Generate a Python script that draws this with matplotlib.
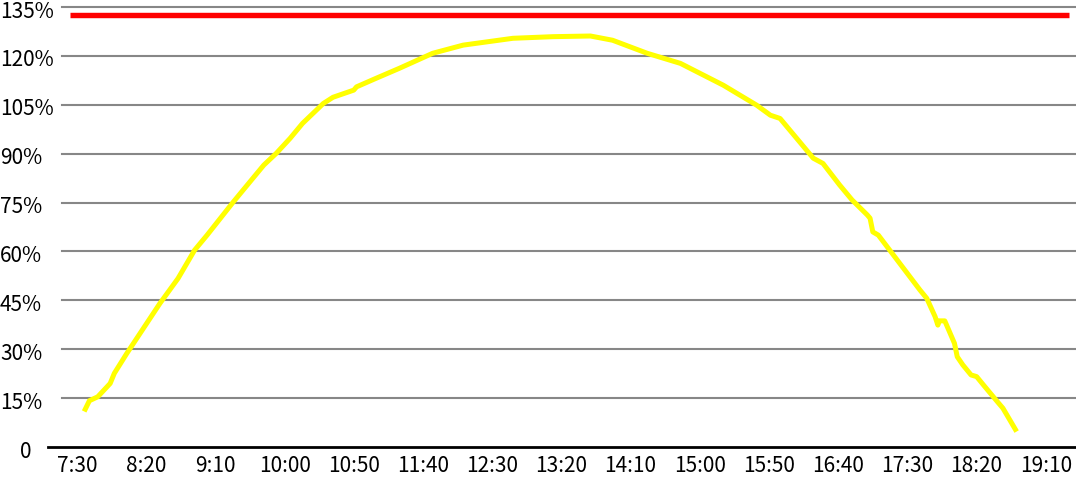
import numpy as np
import matplotlib
matplotlib.use('Agg')
import matplotlib.pyplot as plt
from matplotlib.lines import Line2D
from matplotlib.transforms import ScaledTranslation

# readings of the yellow curve (time, percent)
times = ["7:36", "7:39", "7:45", "7:54", "7:57", "8:06", "8:30", "8:43", "8:55", "9:04",
         "9:23", "9:37", "9:45", "9:54", "10:04", "10:13", "10:28", "10:35", "10:50", "10:52",
         "11:06", "11:23", "11:47", "12:09", "12:45", "13:14", "13:41", "13:57", "14:22", "14:46",
         "15:17", "15:41", "15:51", "15:58", "16:22", "16:29", "16:41", "16:50", "17:01", "17:03",
         "17:05", "17:09", "17:39", "17:44", "17:50", "17:52", "17:53", "17:57", "18:04", "18:06",
         "18:10", "18:16", "18:20", "18:25", "18:35", "18:39", "18:48"]
values = [11.6, 14.2, 15.4, 19.5, 22.6, 28.7, 44.1, 51.7, 60.4, 65.0,
          75.2, 82.4, 86.5, 90.1, 94.7, 99.3, 105.4, 107.3, 109.5, 110.5,
          113.1, 116.2, 120.8, 123.3, 125.4, 125.9, 126.1, 124.8, 120.8, 117.7,
          111.0, 104.9, 101.8, 100.8, 88.6, 87.0, 80.4, 75.8, 71.2, 70.2,
          66.0, 65.0, 48.2, 45.6, 40.0, 37.4, 38.7, 38.7, 31.8, 27.7,
          25.2, 22.1, 21.6, 19.0, 13.9, 11.9, 5.4]

# red limit line
limit_times = ["7:25", "19:27"]
limit_value = 132.5

xtick_labels = ["7:30", "8:20", "9:10", "10:00", "10:50", "11:40", "12:30", "13:20",
                "14:10", "15:00", "15:50", "16:40", "17:30", "18:20", "19:10"]
ytick_values = [0, 15, 30, 45, 60, 75, 90, 105, 120, 135]
ytick_labels = ["0", "15%", "30%", "45%", "60%", "75%", "90%", "105%", "120%", "135%"]


def to_min(s):
    h, m = s.split(':')
    return int(h) * 60 + int(m)


x = np.array([to_min(t) for t in times])
xl = np.array([to_min(t) for t in limit_times])
xt = [to_min(t) for t in xtick_labels]

plt.rcParams['font.family'] = ['Noto Sans CJK SC', 'DejaVu Sans']

W, H = 1076, 478
fig = plt.figure(figsize=(W / 100, H / 100), dpi=100)
ax = fig.add_axes([62 / W, 31 / H, (W - 62) / W, (447 - 7) / H])

for v in ytick_values[1:]:
    ax.axhline(v, color='#878787', lw=1.5, zorder=1, clip_on=False)

ax.plot(xl, [limit_value] * len(xl), color='#ff0000', lw=3.9, solid_capstyle='butt', zorder=3)
ax.plot(x, values, color='#ffff00', lw=3.6, zorder=4)

ax.set_xlim(to_min("7:30") - 10.8, to_min("7:30") + 721.8)
ax.set_ylim(0, 135)
for s in ax.spines.values():
    s.set_visible(False)

ax.set_xticks(xt)
ax.set_xticklabels(xtick_labels, fontsize=15)
ax.tick_params(axis='x', length=0, pad=6)
ax.set_yticks([])

# y labels drawn left-aligned at the figure edge, like the original
aw = W - 62
shift = ScaledTranslation(0, -2 / 100, fig.dpi_scale_trans)
for v, lab in zip(ytick_values, ytick_labels):
    xpos = -62 / aw if lab != "0" else -42 / aw
    ax.text(xpos, v, lab, transform=ax.get_yaxis_transform() + shift, ha='left',
            va='center_baseline', fontsize=15, clip_on=False)

# bottom axis line (starts left of the plot area)
fig.add_artist(Line2D([48 / W, 1.0], [31 / H, 31 / H], color='black', lw=2))

fig.savefig('out.png', dpi=100, facecolor='white')
